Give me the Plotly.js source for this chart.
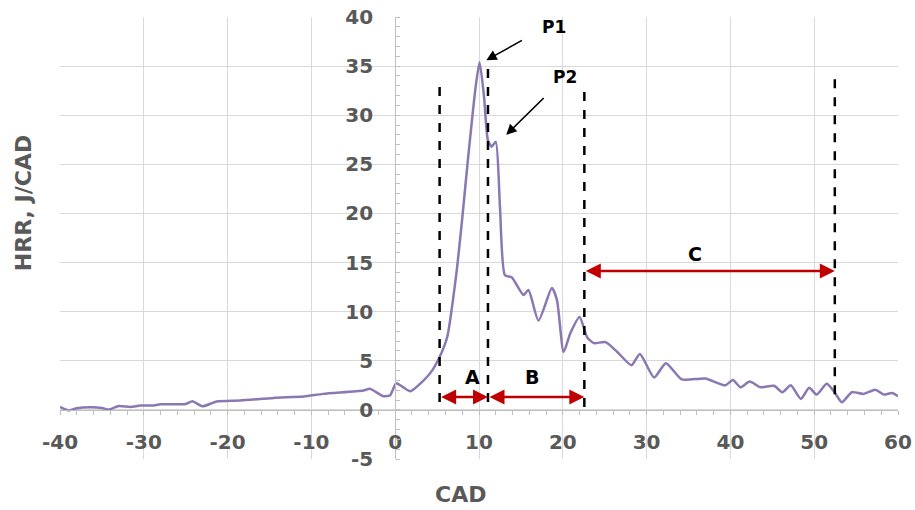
<!DOCTYPE html>
<html>
<head>
<meta charset="utf-8">
<script src="https://cdn.plot.ly/plotly-3.0.1.min.js"></script>
<style>html,body{margin:0;padding:0;background:#fff;}#chart{width:915px;height:510px;}</style>
</head>
<body>
<div id="chart"></div>
<script>
// Crank angle (CAD) and heat release rate (J/CAD)
const cad = [-40, -39, -38, -36.4, -35, -34.2, -33, -31.6, -30.4, -29, -28, -25, -24.2, -23, -21.3, -18.5, -14.5, -10.9, -8.6, -3.8, -3, -1.4, -0.6, 0.1, 0.8, 1.8, 3.4, 4.4, 5.2, 6.2, 7.3, 8.0, 8.6, 9.6, 10.07, 10.6, 11.05, 11.5, 12.0, 12.5, 13.1, 13.9, 15.3, 15.9, 17.1, 18.7, 19.3, 20.1, 20.9, 22.0, 22.9, 23.7, 25.1, 26.5, 28.2, 29.2, 30.9, 32.3, 34.2, 37.0, 39.4, 40.3, 41.2, 42.3, 43.6, 45.2, 46.2, 47.2, 48.4, 49.4, 50.3, 51.5, 52.5, 53.3, 54.5, 55.9, 57.3, 58.3, 59.3, 60];
const hrr = [0.3, -0.05, 0.17, 0.27, 0.2, 0.03, 0.4, 0.3, 0.44, 0.44, 0.57, 0.6, 0.88, 0.37, 0.85, 0.95, 1.22, 1.36, 1.63, 1.97, 2.14, 1.39, 1.5, 2.7, 2.4, 1.9, 3.0, 4.0, 5.2, 7.4, 13.9, 19.5, 24.8, 32.9, 35.4, 31.9, 27.5, 26.8, 27.3, 20.7, 13.7, 13.5, 11.7, 12.2, 9.1, 12.4, 11.2, 5.9, 7.8, 9.45, 7.4, 6.8, 6.9, 5.9, 4.55, 5.7, 3.3, 4.75, 3.1, 3.2, 2.5, 3.05, 2.3, 2.9, 2.3, 2.45, 1.8, 2.5, 1.12, 2.25, 1.56, 2.65, 1.7, 0.78, 1.8, 1.63, 2.04, 1.56, 1.73, 1.4];

// Phase boundaries (CAD) and the top / bottom of each dashed marker line (J/CAD)
const boundaries = [5.3, 11.07, 22.57, 52.46];
const boundaryTop = [33.3, 35.1, 32.8, 34.1];
const boundaryBottom = [0.8, 0.8, 0.3, 1.6];

// Phase labels and their double-arrow spans
const phaseLabels = ["A", "B", "C"];
const phaseFrom = [5.3, 11.07, 22.57];
const phaseTo = [11.07, 22.57, 52.46];
const phaseArrowY = [1.3, 1.3, 14.15];
const phaseLabelX = [9.2, 16.3, 35.8];
const phaseLabelY = [3.3, 3.3, 15.9];

// Peak call-outs
const peakLabels = ["P1", "P2"];
const peakLabelX = [18.9, 20.3];
const peakLabelY = [39.0, 33.9];
const peakArrowFromX = [15.3, 17.9];
const peakArrowFromY = [37.7, 31.9];
const peakArrowToX = [10.87, 13.25];
const peakArrowToY = [35.6, 28.0];

const xTicks = [-40, -30, -20, -10, 0, 10, 20, 30, 40, 50, 60];
const yTicks = [-5, 0, 5, 10, 15, 20, 25, 30, 35, 40];

const gray = '#595959';
const fam = 'DejaVu Sans, Verdana, sans-serif';
const tickFont = {family: fam, size: 20, color: gray, weight: 'bold'};

const shapes = boundaries.map((b, i) => ({
  type: 'line', xref: 'x', yref: 'y',
  x0: b, x1: b, y0: boundaryBottom[i], y1: boundaryTop[i],
  line: {color: '#000000', width: 2.5, dash: 'dash'}
}));

const annotations = [];
phaseLabels.forEach((lab, i) => {
  annotations.push({
    xref: 'x', yref: 'y', axref: 'x', ayref: 'y',
    x: phaseTo[i], y: phaseArrowY[i], ax: phaseFrom[i], ay: phaseArrowY[i],
    text: '', showarrow: true, arrowside: 'end+start',
    arrowhead: 2, arrowsize: 1.2, arrowwidth: 2.5, arrowcolor: '#C00000',
    standoff: 0, startstandoff: 0
  });
  annotations.push({
    xref: 'x', yref: 'y', x: phaseLabelX[i], y: phaseLabelY[i],
    xanchor: 'center', yanchor: 'middle',
    text: '<b>' + lab + '</b>', showarrow: false,
    font: {family: fam, size: 19, color: '#000000'}
  });
});
peakLabels.forEach((lab, i) => {
  annotations.push({
    xref: 'x', yref: 'y', axref: 'x', ayref: 'y',
    x: peakArrowToX[i], y: peakArrowToY[i], ax: peakArrowFromX[i], ay: peakArrowFromY[i],
    text: '', showarrow: true, arrowhead: 2, arrowsize: 1.3, arrowwidth: 1.6, arrowcolor: '#000000',
    standoff: 0
  });
  annotations.push({
    xref: 'x', yref: 'y', x: peakLabelX[i], y: peakLabelY[i],
    xanchor: 'center', yanchor: 'middle',
    text: '<b>' + lab + '</b>', showarrow: false,
    font: {family: fam, size: 17, color: '#000000'}
  });
});
// Axis titles
annotations.push({
  xref: 'paper', yref: 'paper', x: 0.4785, y: -0.081, xanchor: 'center', yanchor: 'middle',
  text: '<b>CAD</b>', showarrow: false,
  font: {family: fam, size: 22, color: gray}
});
annotations.push({
  xref: 'paper', yref: 'paper', x: -0.044, y: 0.579, xanchor: 'center', yanchor: 'middle',
  text: '<b>HRR, J/CAD</b>', showarrow: false, textangle: -90,
  font: {family: fam, size: 22, color: gray}
});

const trace = {
  x: cad, y: hrr, type: 'scatter', mode: 'lines',
  line: {color: '#8A78B2', width: 2.5, shape: 'spline', smoothing: 0.6},
  hoverinfo: 'skip'
};

const layout = {
  width: 915, height: 510,
  margin: {l: 60, r: 17, t: 17, b: 51},
  paper_bgcolor: '#ffffff', plot_bgcolor: '#ffffff',
  showlegend: false,
  xaxis: {
    range: [-40, 60], tickvals: xTicks, ticktext: xTicks.map(String),
    showgrid: true, gridcolor: '#d9d9d9', gridwidth: 1,
    zeroline: false, showline: true, linecolor: '#bfbfbf', linewidth: 1,
    anchor: 'free', position: 5 / 45,
    ticks: '', tickfont: tickFont, ticklabelstandoff: 14,
    minor: {dtick: 2, ticks: 'outside', ticklen: 4, tickcolor: '#bfbfbf', showgrid: false}
  },
  yaxis: {
    range: [-5, 40], tickvals: yTicks, ticktext: yTicks.map(String),
    showgrid: true, gridcolor: '#d9d9d9', gridwidth: 1,
    zeroline: false, showline: true, linecolor: '#bfbfbf', linewidth: 1,
    anchor: 'free', position: 0.4,
    ticks: '', tickfont: tickFont, ticklabelstandoff: 18,
    minor: {dtick: 1, ticks: 'inside', ticklen: 4, tickcolor: '#bfbfbf', showgrid: false}
  },
  shapes: shapes,
  annotations: annotations
};

Plotly.newPlot('chart', [trace], layout, {displayModeBar: false, staticPlot: true});
</script>
</body>
</html>
